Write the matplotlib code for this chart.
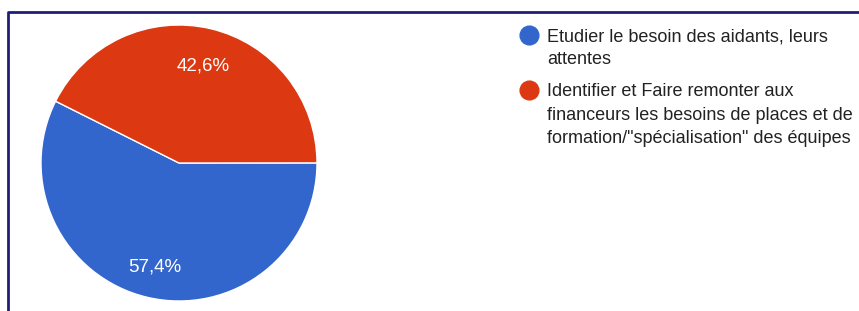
import matplotlib.pyplot as plt
from matplotlib.lines import Line2D
from matplotlib.transforms import ScaledTranslation

labels = ["Etudier le besoin des aidants, leurs\nattentes",
          "Identifier et Faire remonter aux\nfinanceurs les besoins de places et de\nformation/\"spécialisation\" des équipes"]
values = [57.4, 42.6]
colors = ["#3366cc", "#dc3912"]

W, H = 859, 311
fig = plt.figure(figsize=(W / 100, H / 100), dpi=100)
plt.rcParams['font.family'] = ['Liberation Sans', 'DejaVu Sans']

# pie: centre (179,163), radius 138 px
cx, cy, r = 179, 163, 138
ax = fig.add_axes([(cx - r) / W, (H - cy - r) / H, 2 * r / W, 2 * r / H])
wedges, _, autotexts = ax.pie(values, colors=colors, startangle=153.4, counterclock=True,
                              autopct=lambda p: f"{p:.1f}%".replace(".", ","),
                              pctdistance=0.75,
                              wedgeprops=dict(edgecolor="white", linewidth=1))
for t in autotexts:
    t.set_color("white")
    t.set_fontsize(13.5)
    t.set_transform(t.get_transform() + ScaledTranslation(0, -0.035, fig.dpi_scale_trans))
ax.set_xlim(-1, 1)
ax.set_ylim(-1, 1)
ax.axis("off")

# legend drawn by hand
y = 35
for lab, col in zip(labels, colors):
    fig.add_artist(Line2D([529 / W], [1 - y / H], marker="o", markersize=13.5,
                          color=col, linestyle="none"))
    fig.text(547 / W, 1 - (y - 7) / H, lab, fontsize=13, color="#222222",
             va="top", ha="left", linespacing=1.5)
    y += 24.5 * (lab.count("\n") + 1) + 6

# frame (left and top edges)
fig.add_artist(Line2D([8 / W, 8 / W, 1], [0, 1 - 12 / H, 1 - 12 / H],
                      color="#1f1f7a", linewidth=2))

fig.savefig("out.png", dpi=100)
